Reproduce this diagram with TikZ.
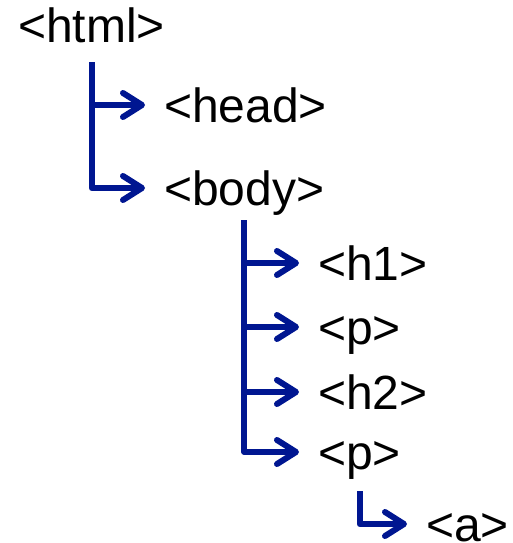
\documentclass[tikz,border=0pt]{standalone}
\usepackage{fontspec}
\setmainfont{Liberation Sans}
\usetikzlibrary{arrows.meta}
\definecolor{treeblue}{RGB}{0,22,145}

\begin{document}
\begin{tikzpicture}[x=1pt, y=-1pt,
  tag/.style={anchor=west, inner xsep=19pt, inner ysep=0pt, text height=34pt, text depth=0pt, font=\fontsize{48}{56}\selectfont},
  branch/.style={draw=treeblue, line width=6pt, line join=round, -{Straight Barb[length=19pt, width=24pt, line width=6pt, round]}}]

\useasboundingbox (0,0) rectangle (512,543);

% Define the tag nodes
\node[tag] (html) at (-1, 25) {<html>};
\node[tag] (head) at (145, 105) {<head>};
\node[tag] (body) at (145, 188) {<body>};
\node[tag] (h1) at (299, 263) {<h1>};
\node[tag] (p1) at (299, 327) {<p>};
\node[tag] (h2) at (299, 392) {<h2>};
\node[tag] (p2) at (299, 452) {<p>};
\node[tag] (a) at (407, 524) {<a>};

% Top ends of the branches
\coordinate (top1) at ([yshift=-20pt]html.south);
\coordinate (top2) at ([yshift=-15pt]body.south);
\coordinate (top3) at ([yshift=-22pt]p2.south);

% Children of html
\draw[branch] (top1) |- (head);
\draw[branch] (top1) |- (body);

% Children of body
\draw[branch] (top2) |- (h1);
\draw[branch] (top2) |- (p1);
\draw[branch] (top2) |- (h2);
\draw[branch] (top2) |- (p2);

% Child of p
\draw[branch] (top3) |- (a);

\end{tikzpicture}
\end{document}
